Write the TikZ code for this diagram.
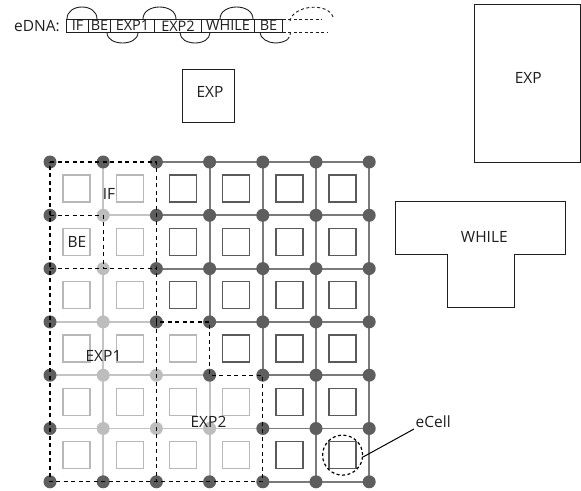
\documentclass[tikz,border=0pt]{standalone}
\usepackage{fontspec}
\setmainfont{Open Sans}
\definecolor{dk}{HTML}{5E5E5E}
\definecolor{dkl}{HTML}{7A7A7A}
\definecolor{dksqc}{HTML}{5A5A5A}
\definecolor{lt}{HTML}{BDBDBD}
\definecolor{ltl}{HTML}{C4C4C4}
\definecolor{ltsqc}{HTML}{B8B8B8}
\definecolor{ink}{HTML}{1E1E1E}
\tikzset{
  dkline/.style={draw=dkl, line width=1.8pt},
  ltline/.style={draw=ltl, line width=1.8pt},
  dkdot/.style={circle, fill=dk, minimum size=13pt, inner sep=0pt},
  ltdot/.style={circle, fill=lt, minimum size=13pt, inner sep=0pt},
  dksq/.style={draw=dksqc, line width=1.4pt, minimum size=27pt, inner sep=0pt},
  ltsq/.style={draw=ltsqc, line width=1.4pt, minimum size=27pt, inner sep=0pt},
  region/.style={draw=black, line width=1.2pt, dash pattern=on 4pt off 3.5pt},
  lbl/.style={font=\fontsize{15.5}{18}\selectfont, text=ink, inner sep=0pt},
  shapebox/.style={draw=ink, line width=1pt},
  gene/.style={draw=ink, line width=0.9pt, minimum height=13.5pt, inner sep=0pt, font=\fontsize{14.5}{15}\selectfont, text=ink},
  helix/.style={draw=ink, line width=0.9pt},
  helixd/.style={draw=ink, line width=0.9pt, dash pattern=on 3pt off 2.5pt},
}
\begin{document}
\begin{tikzpicture}[x=1pt,y=-1pt]
\useasboundingbox (0,0) rectangle (581,490);
% grid coordinates
\foreach \i in {0,...,6}{\foreach \j in {0,...,6}{
  \coordinate (p-\i-\j) at ({50+53.2*\i},{162+53.3*\j});
}}
% light grid lines
\draw[ltline] (p-1-1) -- (p-2-1);
\draw[ltline] (p-0-3) -- (p-2-3);
\draw[ltline] (p-0-4) -- (p-3-4);
\draw[ltline] (p-0-5) -- (p-4-5);
\draw[ltline] (p-1-0) -- (p-1-1);
\draw[ltline] (p-1-2) -- (p-1-6);
\draw[ltline] (p-3-4) -- (p-3-6);
% dark grid lines
\draw[dkline] (p-2-0) -- (p-6-0);
\draw[dkline] (p-2-1) -- (p-6-1);
\draw[dkline] (p-2-2) -- (p-6-2);
\draw[dkline] (p-3-3) -- (p-6-3);
\draw[dkline] (p-4-4) -- (p-6-4);
\draw[dkline] (p-4-5) -- (p-6-5);
\draw[dkline] (p-4-6) -- (p-6-6);
\draw[dkline] (p-3-0) -- (p-3-3);
\draw[dkline] (p-4-0) -- (p-4-4);
\draw[dkline] (p-5-0) -- (p-5-6);
\draw[dkline] (p-6-0) -- (p-6-6);
% cell squares
\foreach \c in {0,...,5}{\foreach \r in {0,...,5}{
  \pgfmathtruncatemacro\islt{(\c<=1) || ((\c==2) && (\r>=3)) || ((\c==3) && (\r>=4))}
  \ifnum\islt=1
    \node[ltsq] (s-\c-\r) at ({76.6+53.2*\c},{188.65+53.3*\r}) {};
  \else
    \node[dksq] (s-\c-\r) at ({76.6+53.2*\c},{188.65+53.3*\r}) {};
  \fi
}}
% dots
\foreach \i in {0,...,6}{\foreach \j in {0,...,6}{
  \pgfmathtruncatemacro\islt{(\j>=1) && (\j<=5) && ((\i==1) || ((\i==2) && (\j>=4)) || ((\i==3) && (\j>=5)))}
  \ifnum\islt=1
    \node[ltdot] (d-\i-\j) at (p-\i-\j) {};
  \else
    \node[dkdot] (d-\i-\j) at (p-\i-\j) {};
  \fi
}}
% dashed regions
\draw[region] (p-0-0) -- (p-2-0) -- (p-2-3) -- (p-3-3) -- (p-3-4) -- (p-4-4) -- (p-4-6) -- (p-0-6) -- cycle;
\draw[region] (p-0-2) -- (p-2-2);
\draw[region] (p-0-1) -- (p-1-1) -- (p-1-2);
\draw[region] (p-2-3) -- (p-2-6);
% region labels
\node[lbl] (lif) at (109,194) {IF};
\node[lbl] (lbe) at (77,242) {BE};
\node[lbl] (lexp1) at (103.5,355.5) {EXP1};
\node[lbl] (lexp2) at (208.5,422) {EXP2};
% eCell
\node[circle, draw=black, line width=1.2pt, dash pattern=on 3pt off 2.5pt, minimum size=40pt, inner sep=0pt] (ecirc) at (s-5-5) {};
\node[lbl, anchor=south west, inner sep=1.5pt] (ecell) at (414,429) {eCell};
\draw[draw=black, line width=1pt] (ecirc.-5) -- (ecell.south west);
% EXP boxes
\node[shapebox, minimum width=51.6pt, minimum height=53pt, inner sep=0pt] (smallexp) at (208.5,95.8) {};
\node[lbl] (smallexplbl) at (210,91.7) {EXP};
\node[shapebox, minimum width=106pt, minimum height=158.5pt, inner sep=0pt, anchor=north west] (bigexp) at (474,3.5) {};
\node[lbl] (bigexplbl) at (528.3,78.3) {EXP};
% WHILE shape
\draw[shapebox] (395,201.7) -- (565.7,201.7) -- (565.7,254) -- (514,254) -- (514,307.7) -- (447.7,307.7) -- (447.7,254) -- (395,254) -- cycle;
\node[lbl] (whilelbl) at (484.3,236.7) {WHILE};
% eDNA strip
\node[font=\fontsize{15.5}{15}\selectfont, text=ink, inner sep=0pt, anchor=base west] (edna) at (14,31.5) {eDNA:};
\node[gene, minimum width=21.8pt] (g1) at (77.6,25.75) {IF};
\node[gene, minimum width=22pt] (g2) at (99.5,25.75) {BE};
\node[gene, minimum width=44pt] (g3) at (132.5,25.75) {EXP1};
\node[gene, minimum width=47pt] (g4) at (178,25.75) {EXP2};
\node[gene, minimum width=53pt] (g5) at (228,25.75) {WHILE};
\node[gene, minimum width=28pt] (g6) at (268.5,25.75) {BE};
% helix arcs
\draw[helix] (67,19) .. controls (67,3) and (97,3) .. (97,19);
\draw[helix] (143,19) .. controls (143,3) and (176,3) .. (176,19);
\draw[helix] (220,19) .. controls (220,3) and (253,3) .. (253,19);
\draw[helix] (107,32.5) .. controls (107,46.5) and (138,46.5) .. (138,32.5);
\draw[helix] (180,32.5) .. controls (180,46.5) and (210,46.5) .. (210,32.5);
\draw[helix] (260,32.5) .. controls (260,38.3) and (268.3,43) .. (275,43) .. controls (280,43) and (285,41.5) .. (287.5,39.5);
\draw[helixd] (287.5,39.5) .. controls (289.5,37.5) and (290.5,35) .. (290.5,32.5);
\draw[helixd] (290,21) .. controls (293,5) and (328,2) .. (333,17);
\draw[helixd] (282.5,19) -- (322,19);
\draw[helixd] (282.5,32.5) -- (328,32.5);
\end{tikzpicture}
\end{document}
